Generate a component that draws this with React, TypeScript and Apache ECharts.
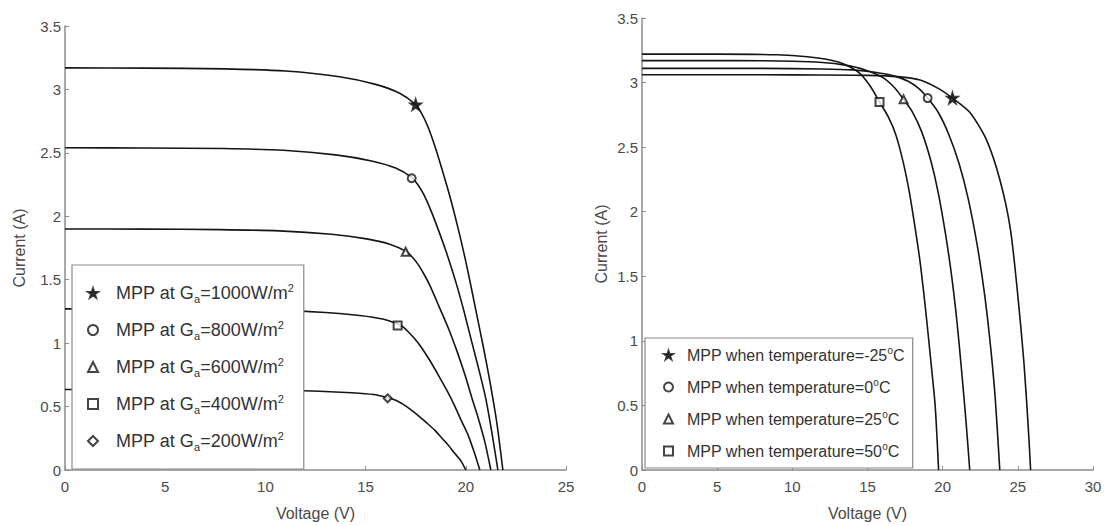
import React, { useEffect, useRef } from 'react';
import * as echarts from 'echarts';

const FONT = '"Liberation Sans", Arial, Helvetica, sans-serif';

// ---- Left panel: irradiance (W/m^2) ----
const irradianceLevels = ['1000', '800', '600', '400', '200'];

const curveG1000: [number, number][] = [
  [0, 3.17], [4, 3.168], [8, 3.162], [11, 3.145], [13.7, 3.1], [15.5, 3.04], [16.7, 2.97], [17.5, 2.88],
  [17.8, 2.81], [18.1, 2.71], [18.4, 2.58], [18.7, 2.43], [19.2, 2.16], [19.7, 1.85], [20.1, 1.57],
  [20.5, 1.26], [20.9, 0.95], [21.2, 0.7], [21.55, 0.37], [21.85, 0],
];
const curveG800: [number, number][] = [
  [0, 2.54], [4, 2.538], [7.9, 2.534], [10.9, 2.52], [13.5, 2.484], [15.3, 2.436], [16.5, 2.38], [17.3, 2.306],
  [17.6, 2.25], [17.9, 2.172], [18.2, 2.068], [18.5, 1.948], [19.0, 1.73], [19.5, 1.483], [19.9, 1.257],
  [20.3, 1.008], [20.7, 0.762], [21.0, 0.561], [21.3, 0.297], [21.6, 0],
];
const curveG600: [number, number][] = [
  [0, 1.9], [4, 1.899], [7.7, 1.895], [10.7, 1.885], [13.3, 1.858], [15.05, 1.822], [16.2, 1.78], [17.0, 1.725],
  [17.3, 1.683], [17.6, 1.625], [17.9, 1.547], [18.2, 1.457], [18.65, 1.294], [19.15, 1.11], [19.55, 0.941],
  [19.95, 0.754], [20.3, 0.57], [20.6, 0.42], [20.95, 0.222], [21.25, 0],
];
const curveG400: [number, number][] = [
  [0, 1.27], [4, 1.269], [7.6, 1.267], [10.5, 1.26], [13.0, 1.242], [14.7, 1.218], [15.85, 1.19], [16.6, 1.15],
  [16.9, 1.125], [17.15, 1.086], [17.45, 1.034], [17.75, 0.974], [18.2, 0.865], [18.65, 0.742], [19.05, 0.629],
  [19.45, 0.504], [19.8, 0.381], [20.1, 0.281], [20.4, 0.149], [20.7, 0],
];
const curveG200: [number, number][] = [
  [0, 0.635], [4, 0.635], [7.6, 0.633], [10.3, 0.63], [12.7, 0.621], [14.3, 0.609], [15.4, 0.595], [16.1, 0.57],
  [16.4, 0.555], [16.65, 0.538], [16.9, 0.515], [17.15, 0.487], [17.6, 0.432], [18.05, 0.371], [18.45, 0.314],
  [18.8, 0.252], [19.15, 0.191], [19.4, 0.14], [19.75, 0.074], [20.0, 0],
];
const irradianceCurves = [curveG1000, curveG800, curveG600, curveG400, curveG200];
const mppIrradiance: [number, number][] = [[17.5, 2.88], [17.3, 2.3], [17.0, 1.72], [16.6, 1.14], [16.1, 0.565]];

// ---- Right panel: temperature (deg C) ----
const temperatureLevels = ['-25', '0', '25', '50'];

const curveTm25: [number, number][] = [
  [0, 3.06], [8, 3.06], [12, 3.059], [15, 3.056], [17, 3.046], [18.5, 3.02], [19.7, 2.955], [20.65, 2.88],
  [21.8, 2.77], [22.9, 2.56], [23.8, 2.25], [24.5, 1.87], [25.0, 1.35], [25.4, 0.84], [25.7, 0.32], [25.85, 0],
];
const curveT0: [number, number][] = [
  [0, 3.11], [8, 3.11], [12, 3.105], [14, 3.098], [15.5, 3.08], [16.8, 3.05], [17.7, 3.01], [18.4, 2.955],
  [19.0, 2.88], [19.7, 2.77], [20.4, 2.6], [21.1, 2.37], [21.7, 2.1], [22.3, 1.74], [22.8, 1.35], [23.2, 0.94],
  [23.5, 0.55], [23.8, 0],
];
const curveT25: [number, number][] = [
  [0, 3.17], [6, 3.17], [10, 3.165], [12, 3.155], [13.5, 3.135], [14.8, 3.1], [16, 3.04], [16.8, 2.96],
  [17.4, 2.87], [18, 2.77], [18.6, 2.62], [19.2, 2.4], [19.7, 2.15], [20.2, 1.82], [20.6, 1.5], [20.95, 1.15],
  [21.25, 0.78], [21.55, 0.38], [21.8, 0],
];
const curveT50: [number, number][] = [
  [0, 3.22], [5, 3.22], [9, 3.215], [11, 3.2], [12.5, 3.175], [13.5, 3.14], [14.5, 3.07], [15.2, 2.97],
  [15.8, 2.85], [16.4, 2.73], [16.9, 2.59], [17.4, 2.37], [17.8, 2.14], [18.2, 1.85], [18.5, 1.61],
  [18.8, 1.31], [19.0, 1.09], [19.25, 0.8], [19.5, 0.5], [19.73, 0],
];
const temperatureCurves = [curveTm25, curveT0, curveT25, curveT50];
const mppTemperature: [number, number][] = [[20.65, 2.88], [19.0, 2.88], [17.4, 2.87], [15.8, 2.85]];

// axis ticks
const leftVoltageTicks = { min: 0, max: 25, interval: 5 };
const rightVoltageTicks = { min: 0, max: 30, interval: 5 };
const currentTicks = { min: 0, max: 3.5, interval: 0.5 };

const STAR =
  'path://M0,-10L2.245,-3.09L9.51,-3.09L3.633,1.18L5.88,8.09L0,3.82L-5.88,8.09L-3.633,1.18L-9.51,-3.09L-2.245,-3.09Z';
const irrSymbols = [STAR, 'emptyCircle', 'emptyTriangle', 'emptyRect', 'emptyDiamond'];
const tempSymbols = [STAR, 'emptyCircle', 'emptyTriangle', 'emptyRect'];

const irrName = (g: string) => `MPP at Ga=${g}W/m2`;
const tempName = (t: string) => `MPP when temperature=${t}oC`;

const AXIS_COLOR = '#8c8c8c';
const TEXT_COLOR = '#4a4a4a';
const LINE_COLOR = '#151515';

function axisX(gridIndex: number, ticks: { min: number; max: number; interval: number }) {
  return {
    type: 'value',
    gridIndex,
    ...ticks,
    name: 'Voltage (V)',
    nameLocation: 'middle',
    nameGap: 35,
    nameTextStyle: { fontSize: 16, color: TEXT_COLOR, fontFamily: FONT },
    axisLine: { show: true, onZero: false, lineStyle: { color: AXIS_COLOR, width: 1.5 } },
    axisTick: { show: true, inside: true, length: 4, lineStyle: { color: AXIS_COLOR } },
    axisLabel: { fontSize: 15, color: TEXT_COLOR, margin: 9, fontFamily: FONT },
    splitLine: { show: false },
  };
}
function axisY(gridIndex: number, nameGap: number) {
  return {
    type: 'value',
    gridIndex,
    ...currentTicks,
    name: 'Current (A)',
    nameLocation: 'middle',
    nameGap,
    nameTextStyle: { fontSize: 16, color: TEXT_COLOR, fontFamily: FONT },
    axisLine: { show: true, onZero: false, lineStyle: { color: AXIS_COLOR, width: 1.5 } },
    axisTick: { show: true, inside: true, length: 4, lineStyle: { color: AXIS_COLOR } },
    axisLabel: { fontSize: 15, color: TEXT_COLOR, margin: 4, fontFamily: FONT },
    splitLine: { show: false },
  };
}

export default function App() {
  const ref = useRef<HTMLDivElement>(null);
  useEffect(() => {
    if (!ref.current) return;
    const chart = echarts.init(ref.current, undefined, { renderer: 'svg' });

    const series: any[] = [];
    irradianceCurves.forEach((c) => {
      series.push({
        type: 'line', xAxisIndex: 0, yAxisIndex: 0, data: c, symbol: 'none', showSymbol: false,
        smooth: 0.25, lineStyle: { color: LINE_COLOR, width: 1.6 }, silent: true, z: 2,
      });
    });
    irradianceLevels.forEach((g, i) => {
      series.push({
        name: irrName(g), type: 'scatter', xAxisIndex: 0, yAxisIndex: 0, data: [mppIrradiance[i]],
        symbol: irrSymbols[i], symbolSize: i === 0 ? 11 : 8,
        itemStyle: { color: LINE_COLOR, borderColor: LINE_COLOR, borderWidth: 1.8 }, z: 3,
      });
    });
    temperatureCurves.forEach((c) => {
      series.push({
        type: 'line', xAxisIndex: 1, yAxisIndex: 1, data: c, symbol: 'none', showSymbol: false,
        smooth: 0.25, lineStyle: { color: LINE_COLOR, width: 1.6 }, silent: true, z: 2,
      });
    });
    temperatureLevels.forEach((t, i) => {
      series.push({
        name: tempName(t), type: 'scatter', xAxisIndex: 1, yAxisIndex: 1, data: [mppTemperature[i]],
        symbol: tempSymbols[i], symbolSize: i === 0 ? 11 : 8,
        itemStyle: { color: LINE_COLOR, borderColor: LINE_COLOR, borderWidth: 1.8 }, z: 3,
      });
    });

    chart.setOption({
      animation: false,
      backgroundColor: '#fff',
      grid: [
        { left: 65, width: 501, top: 26, height: 445 },
        { left: 642, width: 451, top: 18, height: 454 },
      ],
      xAxis: [axisX(0, leftVoltageTicks), axisX(1, rightVoltageTicks)],
      yAxis: [axisY(0, 38), axisY(1, 33)],
      legend: [
        {
          data: irradianceLevels.map(irrName),
          orient: 'vertical', left: 72, top: 265, selectedMode: false,
          backgroundColor: '#fff', borderColor: '#8a8a8a', borderWidth: 1.2,
          padding: [17, 10, 17, 15], itemGap: 15, itemWidth: 10, itemHeight: 10,
          formatter: (name: string) => {
            const g = irradianceLevels[irradianceLevels.map(irrName).indexOf(name)];
            return `MPP at G{sub|a}=${g}W/m{sup|2}`;
          },
          textStyle: {
            fontSize: 18, lineHeight: 22, color: '#333', fontFamily: FONT, padding: [0, 0, 0, 13],
            rich: {
              sub: { fontSize: 11, lineHeight: 12, verticalAlign: 'bottom', color: '#333', fontFamily: FONT },
              sup: { fontSize: 11, lineHeight: 12, verticalAlign: 'top', color: '#333', fontFamily: FONT },
            },
          },
        },
        {
          data: temperatureLevels.map(tempName),
          orient: 'vertical', left: 645, top: 338, selectedMode: false,
          backgroundColor: '#fff', borderColor: '#8a8a8a', borderWidth: 1.2,
          padding: [7, 8, 7, 18], itemGap: 12, itemWidth: 9, itemHeight: 9,
          formatter: (name: string) => {
            const t = temperatureLevels[temperatureLevels.map(tempName).indexOf(name)];
            return `MPP when temperature=${t}{sup|o}C`;
          },
          textStyle: {
            fontSize: 16, lineHeight: 20, color: '#333', fontFamily: FONT, padding: [0, 0, 0, 9],
            rich: {
              sup: { fontSize: 10, lineHeight: 11, verticalAlign: 'top', color: '#333', fontFamily: FONT },
            },
          },
        },
      ],
      series,
    });
    return () => chart.dispose();
  }, []);
  return (
    <div
      ref={ref}
      style={{ position: 'fixed', left: 0, top: 0, width: 1107, height: 526, background: '#fff' }}
    />
  );
}
